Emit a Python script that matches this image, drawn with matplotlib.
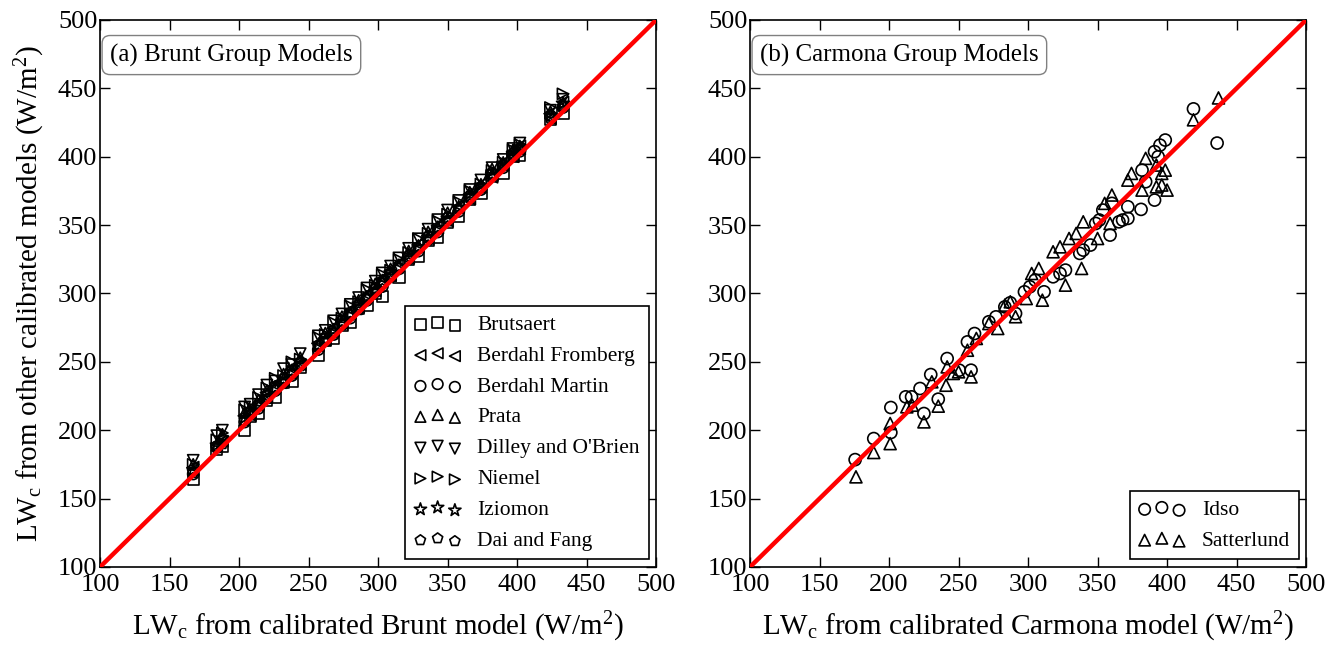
import matplotlib
matplotlib.use("Agg")
import matplotlib.pyplot as plt

plt.rcParams['font.family'] = ['Liberation Serif', 'DejaVu Serif']
plt.rcParams['mathtext.fontset'] = 'custom'
plt.rcParams['mathtext.rm'] = 'Liberation Serif'
plt.rcParams['mathtext.it'] = 'Liberation Serif:italic'
plt.rcParams['xtick.direction'] = 'in'
plt.rcParams['ytick.direction'] = 'in'

# ---------------- Panel (a): Brunt group ----------------
brunt_x = [167, 184, 188, 204, 208, 214, 220, 226, 232, 238, 244, 257, 262, 268, 274, 280, 286, 292,
           298, 303, 309, 315, 322, 329, 336, 343, 350, 358, 366, 374, 382, 390, 397, 402, 424, 433]
brutsaert = [164, 186, 188, 200, 210, 212, 222, 224, 235, 236, 246, 255, 266, 267, 277, 279, 289, 291,
             300, 298, 313, 312, 325, 327, 339, 341, 352, 356, 369, 373, 386, 388, 400, 401, 427, 432]
berdahl_fromberg = [173, 190, 192, 211, 211, 220, 224, 233, 236, 245, 248, 264, 266, 275, 278, 288, 290, 299,
                    302, 311, 313, 322, 326, 336, 340, 350, 353, 364, 369, 380, 385, 396, 400, 408, 428, 440]
berdahl_martin = [168, 188, 193, 206, 213, 216, 225, 229, 237, 240, 249, 259, 267, 270, 280, 282, 291, 295,
                  303, 305, 314, 318, 327, 331, 341, 345, 355, 360, 371, 376, 388, 392, 402, 404, 430, 436]
prata = [175, 189, 197, 213, 213, 222, 229, 232, 241, 244, 253, 262, 271, 273, 283, 286, 295, 298,
         307, 309, 318, 321, 331, 335, 345, 348, 359, 363, 374, 378, 391, 394, 405, 406, 433, 439]
dilley_obrien = [178, 196, 200, 217, 219, 226, 233, 236, 245, 248, 256, 269, 273, 280, 285, 292, 297, 304,
                 309, 315, 320, 326, 333, 340, 347, 354, 361, 368, 376, 383, 392, 398, 406, 410, 434, 442]
niemel = [175, 193, 198, 215, 217, 224, 231, 238, 240, 250, 252, 268, 270, 279, 282, 291, 294, 303,
          306, 314, 317, 325, 330, 340, 344, 353, 358, 367, 375, 380, 390, 396, 405, 409, 436, 446]
iziomon = [171, 189, 194, 209, 214, 218, 226, 231, 237, 243, 250, 262, 266, 273, 279, 285, 292, 297,
           303, 309, 315, 319, 328, 334, 341, 348, 355, 363, 371, 379, 387, 395, 402, 407, 430, 439]
dai_fang = [169, 187, 190, 207, 211, 218, 223, 230, 234, 241, 247, 261, 265, 271, 277, 284, 288, 296,
            301, 307, 312, 319, 325, 333, 339, 347, 353, 362, 370, 377, 385, 394, 400, 406, 428, 437]

brunt_series = [
    ("Brutsaert", brutsaert, "s"),
    ("Berdahl Fromberg", berdahl_fromberg, "<"),
    ("Berdahl Martin", berdahl_martin, "o"),
    ("Prata", prata, "^"),
    ("Dilley and O'Brien", dilley_obrien, "v"),
    ("Niemel", niemel, ">"),
    ("Iziomon", iziomon, "*"),
    ("Dai and Fang", dai_fang, "p"),
]

# ---------------- Panel (b): Carmona group ----------------
idso_x = [175.6, 189, 201.3, 201.3, 212, 216.2, 222.3, 225.1, 230, 235.4, 241.8, 250.5, 259, 256.4,
          261.5, 271.8, 276.9, 283.3, 287.2, 291, 297.4, 301.3, 305.1, 311.5, 318, 323, 326.9, 337.2,
          339.7, 344.9, 348.7, 351.3, 359, 353.8, 360.3, 365.4, 368, 371.8, 371.8, 381.3, 384.6, 382,
          391, 391, 393.6, 394.9, 398.7, 419, 436]
idso_y = [178.5, 193.9, 216.6, 198.3, 224.4, 224.4, 230.5, 212.2, 240.7, 222.7, 252.4, 243.9, 243.9, 264.6,
          270.7, 279.3, 282.9, 290.2, 293.2, 285.4, 301.2, 304.9, 309.8, 301.2, 312.2, 314.6, 317.1, 329.3,
          331.7, 335.4, 351.2, 353.7, 342.7, 361, 365.9, 352.4, 353.7, 354.9, 363.4, 361.5, 381.7, 390.2,
          368.3, 403.7, 400, 408.5, 412.2, 435, 410]
satterlund_x = [176.2, 189, 200.8, 200.8, 212.8, 216.7, 225.1, 230.8, 235.4, 241.8, 241, 246.2, 250, 259,
                256.4, 262.8, 271.8, 278.2, 283.3, 287.2, 291, 298.7, 302.6, 307.7, 310.3, 318, 323, 326.9,
                329.5, 334.6, 338.5, 339.7, 350, 355.1, 360.3, 359, 371.8, 374.4, 382, 384.6, 392.3, 396.2,
                398.7, 396.2, 400, 392.3, 419, 437]
satterlund_y = [165.9, 183.7, 190.2, 204.9, 217.1, 218.3, 206.1, 235.4, 217.6, 246.3, 232.9, 241.5, 242.7, 239,
                258.5, 267.1, 278, 274.4, 291.5, 293.9, 283, 296.3, 314.6, 318.3, 295.1, 330.5, 334.1, 306.1,
                340.2, 343.9, 318.3, 352.4, 340.2, 365.9, 372, 351.2, 382.9, 387.8, 375.6, 398.8, 393.9, 387.8,
                390.2, 379.3, 375.6, 378, 427, 443]

axis_ticks = [100, 150, 200, 250, 300, 350, 400, 450, 500]

fig = plt.figure(figsize=(13.36, 6.45), dpi=100)
ax1 = fig.add_axes([0.0749, 0.121, 0.4162, 0.848])
ax2 = fig.add_axes([0.5614, 0.121, 0.4162, 0.848])

for name, ys, mk in brunt_series:
    s = 95 if mk == "*" else 65
    ax1.scatter(brunt_x, ys, s=s, marker=mk, facecolors='none', edgecolors='black',
                linewidths=1.2, label=name, zorder=2)

ax2.scatter(idso_x, idso_y, s=75, marker='o', facecolors='none', edgecolors='black',
            linewidths=1.2, label='Idso', zorder=2)
ax2.scatter(satterlund_x, satterlund_y, s=75, marker='^', facecolors='none', edgecolors='black',
            linewidths=1.2, label='Satterlund', zorder=2)

for ax, title in [(ax1, "(a) Brunt Group Models"), (ax2, "(b) Carmona Group Models")]:
    ax.plot([100, 500], [100, 500], color='red', lw=3.2, zorder=3)
    ax.set_xlim(100, 500)
    ax.set_ylim(100, 500)
    ax.set_xticks(axis_ticks)
    ax.set_yticks(axis_ticks)
    ax.tick_params(axis='both', which='major', labelsize=19, length=7, width=1,
                   top=True, right=True)
    ax.tick_params(axis='x', pad=5)
    ax.tick_params(axis='y', pad=2)
    for sp in ax.spines.values():
        sp.set_linewidth(1.2)
    ax.text(0.018, 0.957, title, transform=ax.transAxes, fontsize=18, va='top', ha='left',
            bbox=dict(boxstyle='round,pad=0.32', fc='white', ec='gray', lw=1))

leg_kw = dict(scatterpoints=3, scatteryoffsets=[0.375, 0.5, 0.3125], fancybox=False,
              edgecolor='black', framealpha=1, fontsize=15.5, borderaxespad=0.35,
              handletextpad=0.75, labelspacing=0.5, markerscale=0.95, handlelength=2.2)
lg1 = ax1.legend(loc='lower right', **leg_kw)
lg2 = ax2.legend(loc='lower right', **leg_kw)
for lg in (lg1, lg2):
    lg.get_frame().set_linewidth(1.2)

ax1.set_xlabel(r"LW$_\mathrm{c}$ from calibrated Brunt model (W/m$^2$)", fontsize=21, labelpad=10)
ax2.set_xlabel(r"LW$_\mathrm{c}$ from calibrated Carmona model (W/m$^2$)", fontsize=21, labelpad=10)
ax1.set_ylabel(r"LW$_\mathrm{c}$ from other calibrated models (W/m$^2$)", fontsize=21, labelpad=8)

fig.savefig("out.png", dpi=100)
